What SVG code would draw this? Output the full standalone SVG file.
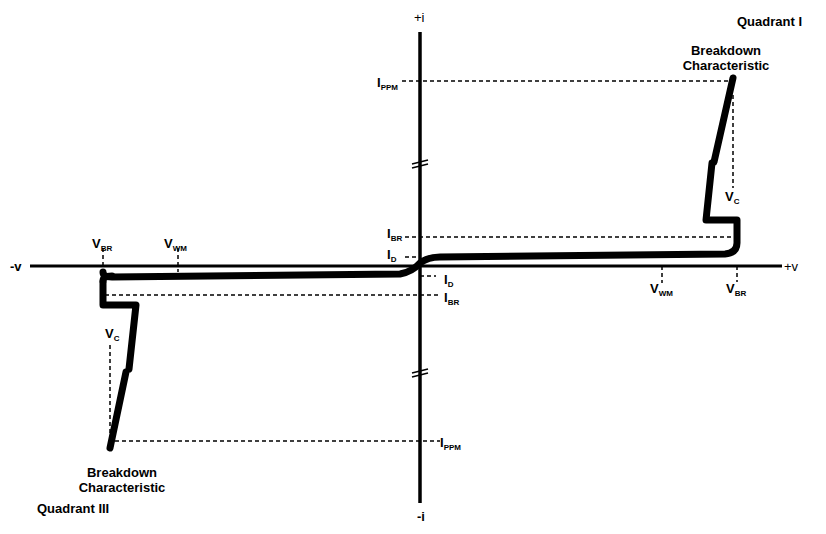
<svg xmlns="http://www.w3.org/2000/svg" width="826" height="534" viewBox="0 0 826 534">
<style>
text{font-family:"Liberation Sans",Arial,sans-serif;font-weight:bold;fill:#000;font-size:13px}
.s{font-size:8px}
.d{stroke:#000;stroke-width:1.5;stroke-dasharray:4,3;fill:none}
.c{stroke:#000;stroke-width:7;fill:none;stroke-linejoin:round;stroke-linecap:round}
</style>
<rect width="826" height="534" fill="#fff"/>
<g id="axes">
<line x1="30" y1="266" x2="782" y2="266" stroke="#000" stroke-width="3"/>
<line x1="420" y1="32" x2="420" y2="503" stroke="#000" stroke-width="3.5"/>
<g stroke="#000" stroke-width="1.5"><line x1="412" y1="164" x2="428" y2="160"/><line x1="412" y1="168" x2="428" y2="164"/><line x1="412" y1="373" x2="428" y2="369"/><line x1="412" y1="377" x2="428" y2="373"/></g>
<text x="414" y="22" font-weight="normal" style="font-weight:normal" font-size="11">+i</text>
<text x="417" y="521">-i</text>
<text x="10" y="271">-v</text>
<text x="784" y="271" style="font-weight:normal" font-size="11">+v</text>
</g>
<g id="connectors">
<path class="d" d="M402 81H732M405 237H737M405 257H420M733 95V188M662 266V283M737 266V282M103 248V277M178 248V272M420 276H436M105 295H440M110 345V445M115 441H440"/>
</g>
<g id="curve">
<path class="c" d="M103 272 Q103 277 112 277 L400 274 Q412 272 420 263 Q428 257 440 257 L725 254 Q737 253 737 243 V220 H706 L712 163"/>
<path class="c" d="M714 162 L733 78"/>
<path class="c" d="M103 282 V305 H136 L129 369"/>
<path class="c" d="M126 372 L110 448"/>
<path class="c" d="M103 281 Q103 276 112 276"/>
</g>
<g id="labels">
<text x="737" y="26">Quadrant I</text>
<text x="726" y="55" text-anchor="middle">Breakdown</text>
<text x="726" y="70" text-anchor="middle">Characteristic</text>
<text x="377" y="87">I<tspan class="s" dy="3">PPM</tspan></text>
<text x="725" y="201">V<tspan class="s" dy="3">C</tspan></text>
<text x="387" y="238">I<tspan class="s" dy="3">BR</tspan></text>
<text x="387" y="259">I<tspan class="s" dy="3">D</tspan></text>
<text x="650" y="293">V<tspan class="s" dy="3">WM</tspan></text>
<text x="726" y="293">V<tspan class="s" dy="3">BR</tspan></text>
<text x="92" y="248">V<tspan class="s" dy="3">BR</tspan></text>
<text x="164" y="248">V<tspan class="s" dy="3">WM</tspan></text>
<text x="444" y="284">I<tspan class="s" dy="3">D</tspan></text>
<text x="444" y="302">I<tspan class="s" dy="3">BR</tspan></text>
<text x="105" y="338">V<tspan class="s" dy="3">C</tspan></text>
<text x="440" y="447">I<tspan class="s" dy="3">PPM</tspan></text>
<text x="122" y="477" text-anchor="middle">Breakdown</text>
<text x="122" y="492" text-anchor="middle">Characteristic</text>
<text x="37" y="513">Quadrant III</text>
</g>
</svg>
